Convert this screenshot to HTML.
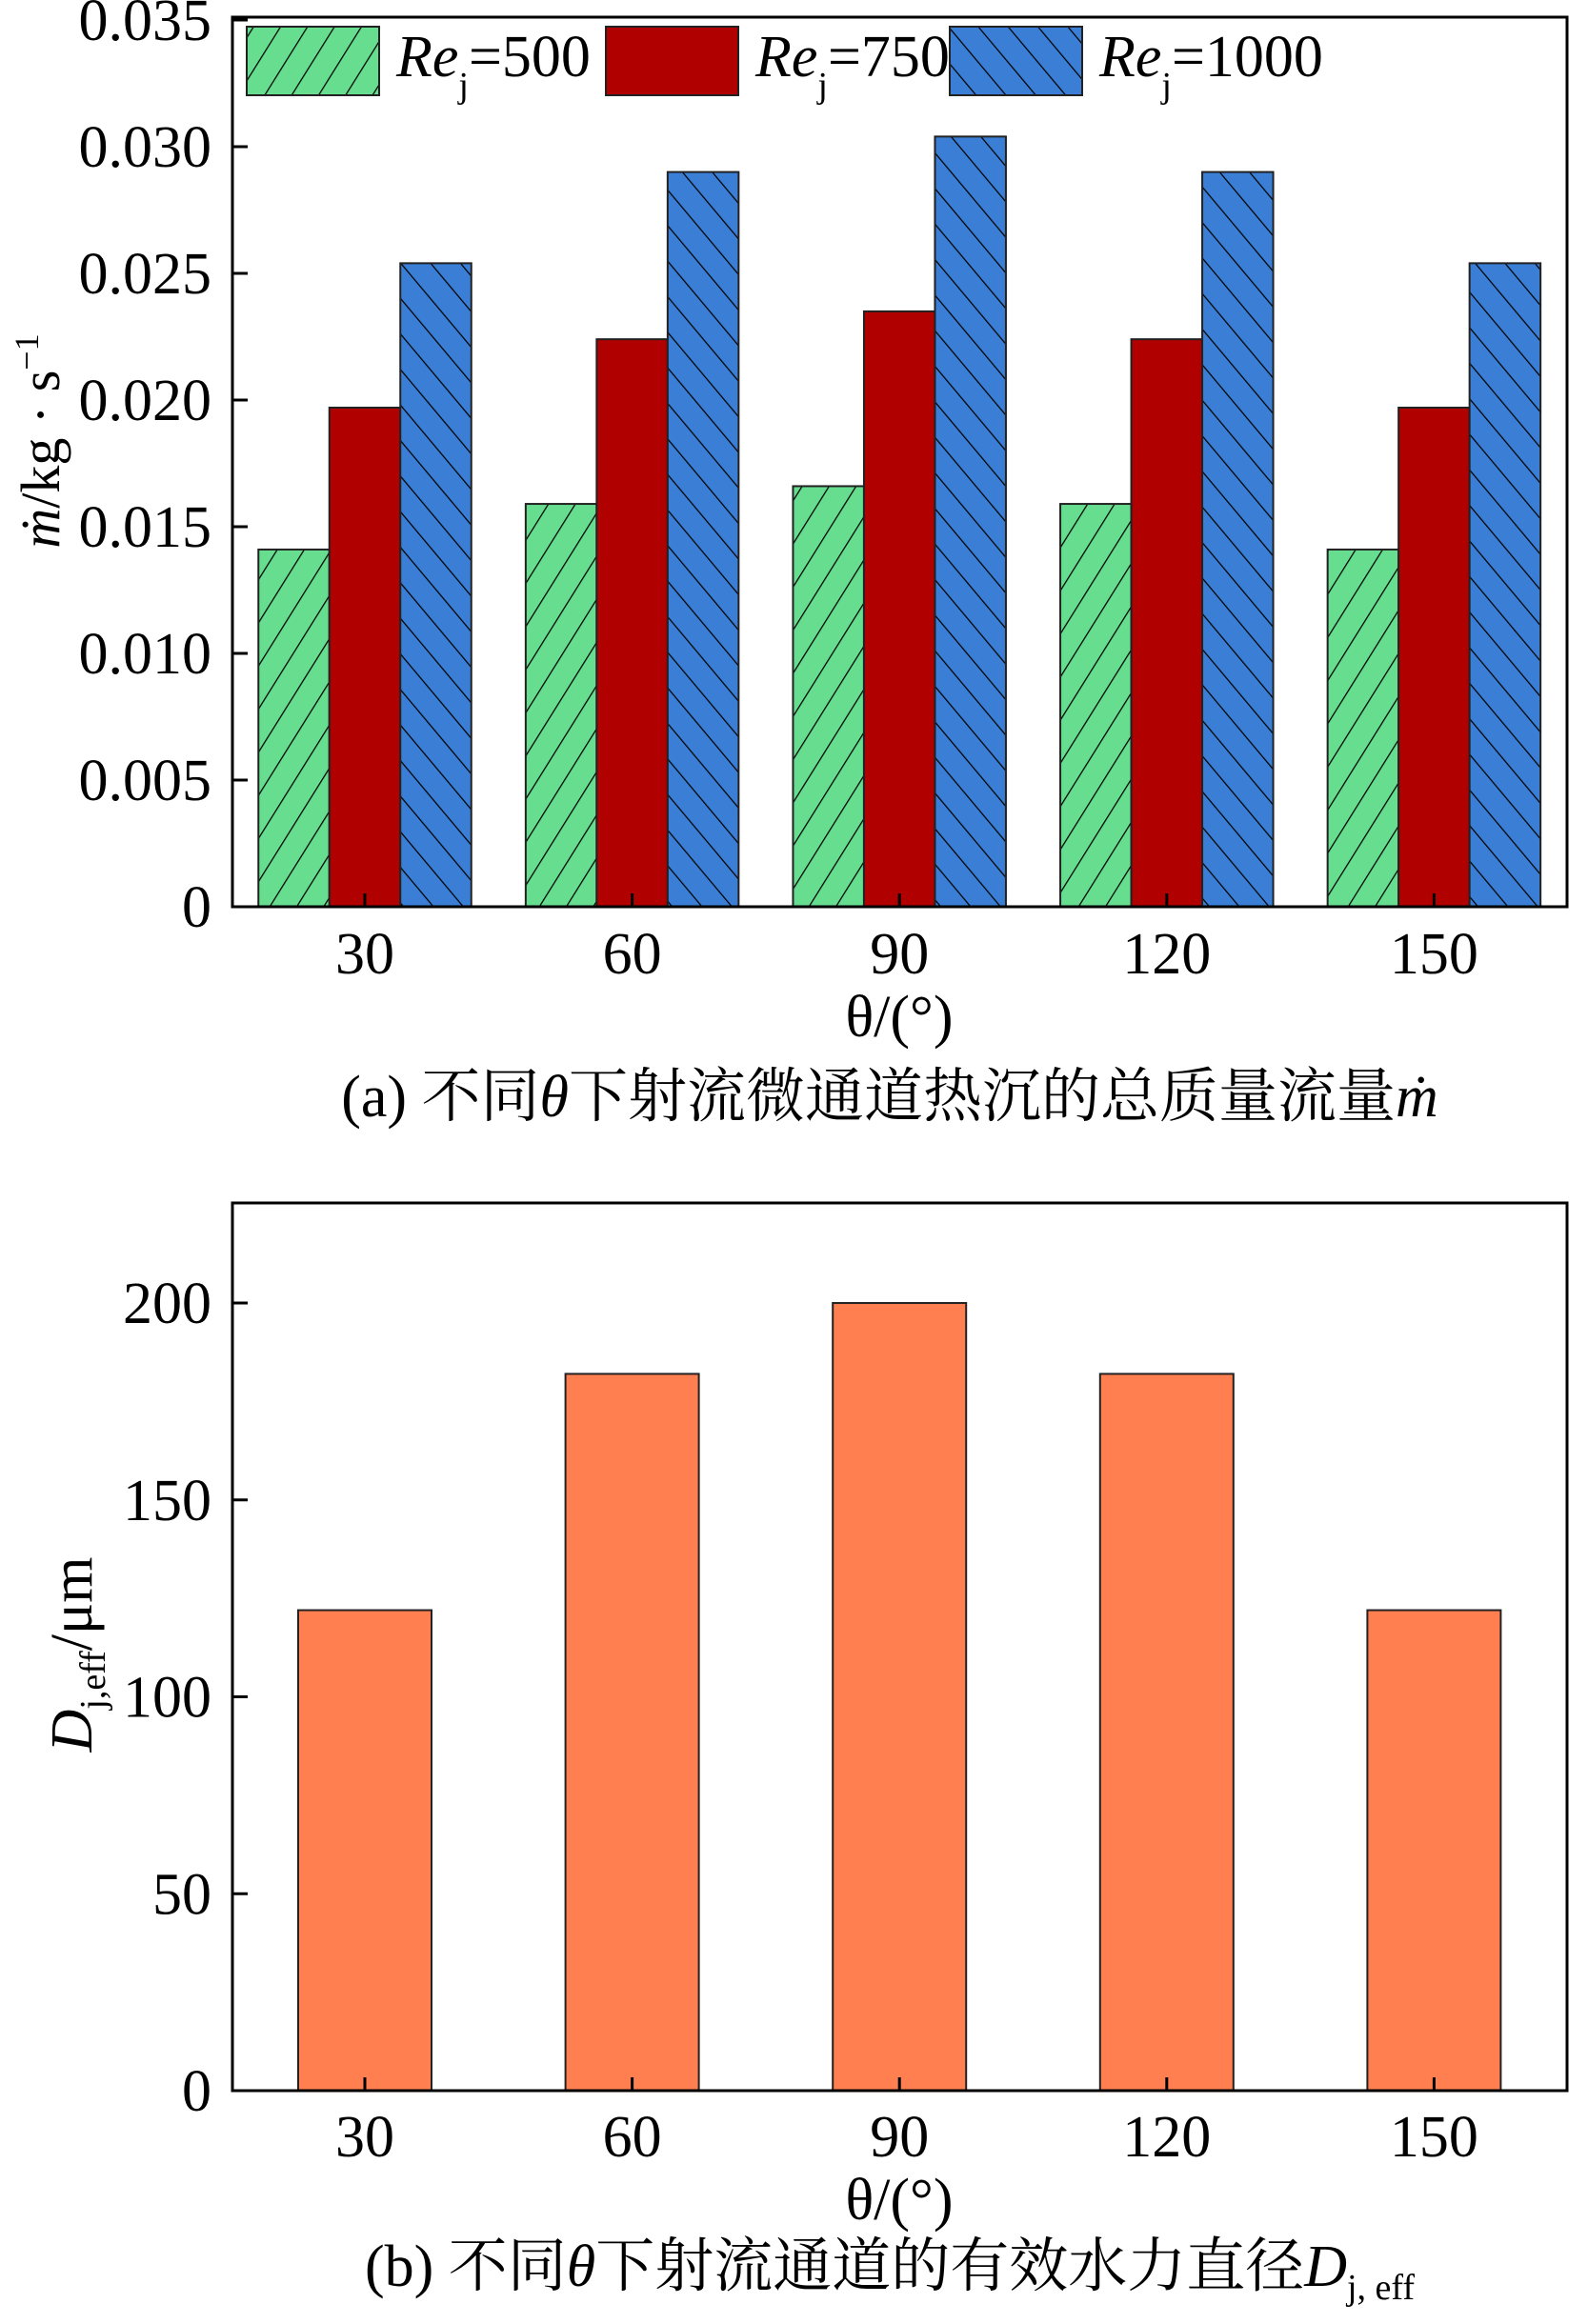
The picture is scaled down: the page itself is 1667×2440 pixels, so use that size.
<!DOCTYPE html>
<html><head><meta charset="utf-8"><style>
html,body{margin:0;padding:0;background:#fff}
svg{display:block}
text{font-family:"Liberation Serif","Noto Serif CJK SC",serif;fill:#000}
</style></head><body>
<svg id="s" width="1667" height="2440" viewBox="0 0 1667 2440" xmlns="http://www.w3.org/2000/svg">
<defs>
<pattern id="hg" patternUnits="userSpaceOnUse" width="24" height="24" patternTransform="rotate(32)"><rect width="24" height="24" fill="#66DD8F"/><line x1="0" y1="0" x2="0" y2="24" stroke="#000" stroke-width="2.5"/></pattern>
<pattern id="hb" patternUnits="userSpaceOnUse" width="24" height="24" patternTransform="rotate(-40)"><rect width="24" height="24" fill="#3A7FD5"/><line x1="0" y1="0" x2="0" y2="24" stroke="#000" stroke-width="2.5"/></pattern>
</defs>
<g id="ga"></g>
<g id="gb"></g>
</svg>
<script>
const categories=["30","60","90","120","150"];
const re500=[0.0141,0.0159,0.0166,0.0159,0.0141];
const re750=[0.0197,0.0224,0.0235,0.0224,0.0197];
const re1000=[0.0254,0.0290,0.0304,0.0290,0.0254];
const ticksA=[0,0.005,0.010,0.015,0.020,0.025,0.030,0.035];
const tickLabelsA=["0","0.005","0.010","0.015","0.020","0.025","0.030","0.035"];
const dEff=[122,182,200,182,122];
const ticksB=[0,50,100,150,200];
const tickLabelsB=["0","50","100","150","200"];

const NS="http://www.w3.org/2000/svg";
function el(p,t,a,txt){const e=document.createElementNS(NS,t);for(const k in a)e.setAttribute(k,a[k]);if(txt!=null)e.textContent=txt;p.appendChild(e);return e;}
const FS=62;

// Chart A
const ga=document.getElementById('ga');
const L=244,R=1645;
const aTop=18,aY0=952,aMax=0.035,aMaxY=21;
const ya=v=>aY0-(aY0-aMaxY)*v/aMax;
const xc=i=>383+i*280.6;
el(ga,'rect',{x:L,y:aTop,width:R-L,height:aY0-aTop,fill:'#fff',stroke:'#000','stroke-width':3});
const series=[[re500,'url(#hg)'],[re750,'#B00000'],[re1000,'url(#hb)']];
const bw=74.5;
categories.forEach((c,i)=>{
  series.forEach((s,j)=>{
    const v=s[0][i];
    const r=el(ga,'rect',{x:xc(i)-1.5*bw+j*bw,y:ya(v),width:bw,height:aY0-ya(v),fill:s[1],stroke:'#222','stroke-width':2});
    
    
  });
  el(ga,'line',{x1:xc(i),y1:aY0,x2:xc(i),y2:aY0-14,stroke:'#000','stroke-width':3});
  const t=el(ga,'text',{x:xc(i),y:1022,'font-size':FS,'text-anchor':'middle'},c);
  
  
});
ticksA.forEach((v,k)=>{
  el(ga,'line',{x1:L,y1:ya(v),x2:L+16,y2:ya(v),stroke:'#000','stroke-width':3});
  const t=el(ga,'text',{x:222,y:ya(v)+21,'font-size':FS,'text-anchor':'end'},tickLabelsA[k]);
  
  
});
el(ga,'rect',{x:L,y:aTop,width:R-L,height:aY0-aTop,fill:'none',stroke:'#000','stroke-width':3});
// legend
const leg=[[259,'url(#hg)','=500'],[636,'#B00000','=750'],[997,'url(#hb)','=1000']];
leg.forEach((l,k)=>{
  const g=el(ga,'g',{});
  
  
  el(g,'rect',{x:l[0],y:28,width:139,height:72,fill:l[1],stroke:'#222','stroke-width':2});
  const t=el(g,'text',{x:l[0]+157,y:80,'font-size':FS});
  el(t,'tspan',{'font-style':'italic'},'Re');
  el(t,'tspan',{'font-size':38,dy:22},'j');
  el(t,'tspan',{dy:-22},l[2]);
});
el(ga,'text',{x:944,y:1088,'font-size':FS,'text-anchor':'middle',},'θ/(°)');
const yt=el(ga,'text',{x:0,y:0,'font-size':58,'text-anchor':'middle',transform:'translate(62,463) rotate(-90)',});
el(yt,'tspan',{'font-style':'italic'},'ṁ');
el(yt,'tspan',{},'/kg · s');
el(yt,'tspan',{'font-size':36,dy:-22},'−1');
const ca=el(ga,'text',{x:934,y:1172,'font-size':FS,'text-anchor':'middle',});
el(ca,'tspan',{},'(a) 不同');el(ca,'tspan',{'font-style':'italic'},'θ');el(ca,'tspan',{},'下射流微通道热沉的总质量流量');el(ca,'tspan',{'font-style':'italic'},'ṁ');

// Chart B
const gb=document.getElementById('gb');
const bTop=1263,bY0=2195,bMax=225.4;
const yb=v=>bY0-(bY0-bTop)*v/bMax;
el(gb,'rect',{x:L,y:bTop,width:R-L,height:bY0-bTop,fill:'#fff',stroke:'#000','stroke-width':3});
const bwb=140;
categories.forEach((c,i)=>{
  const v=dEff[i];
  const r=el(gb,'rect',{x:xc(i)-bwb/2,y:yb(v),width:bwb,height:bY0-yb(v),fill:'#FF7F50',stroke:'#222','stroke-width':2});
  
  
  el(gb,'line',{x1:xc(i),y1:bY0,x2:xc(i),y2:bY0-14,stroke:'#000','stroke-width':3});
  const t=el(gb,'text',{x:xc(i),y:2264,'font-size':FS,'text-anchor':'middle'},c);
  
  
});
ticksB.forEach((v,k)=>{
  el(gb,'line',{x1:L,y1:yb(v),x2:L+16,y2:yb(v),stroke:'#000','stroke-width':3});
  const t=el(gb,'text',{x:222,y:yb(v)+21,'font-size':FS,'text-anchor':'end'},tickLabelsB[k]);
  
  
});
el(gb,'rect',{x:L,y:bTop,width:R-L,height:bY0-bTop,fill:'none',stroke:'#000','stroke-width':3});
el(gb,'text',{x:944,y:2330,'font-size':FS,'text-anchor':'middle',},'θ/(°)');
const yt2=el(gb,'text',{x:0,y:0,'font-size':FS,'text-anchor':'middle',transform:'translate(96,1737) rotate(-90)',});
el(yt2,'tspan',{'font-style':'italic'},'D');
el(yt2,'tspan',{'font-size':38,dy:14},'j,eff');
el(yt2,'tspan',{dy:-14},'/μm');
const cb=el(gb,'text',{x:934,y:2400,'font-size':FS,'text-anchor':'middle',});
el(cb,'tspan',{},'(b) 不同');el(cb,'tspan',{'font-style':'italic'},'θ');el(cb,'tspan',{},'下射流通道的有效水力直径');el(cb,'tspan',{'font-style':'italic'},'D');el(cb,'tspan',{'font-size':38,dy:14},'j, eff');
</script>
</body></html>
